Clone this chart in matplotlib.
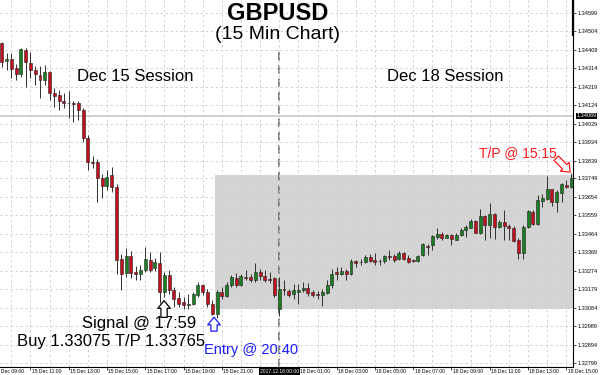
import matplotlib
matplotlib.use("Agg")
import matplotlib.pyplot as plt
import matplotlib.transforms as mtransforms
from matplotlib.patches import Rectangle
import numpy as np
import pandas as pd

plt.rcParams["font.family"] = ["Liberation Sans", "DejaVu Sans"]

# 15 min bars: Fri 15 Dec 09:30-23:45, then Mon 18 Dec 00:00-15:15
times = pd.date_range("2017-12-15 09:30", "2017-12-15 23:45", freq="15min").append(
    pd.date_range("2017-12-18 00:00", "2017-12-18 15:15", freq="15min")
)

opens = [
    1.34441, 1.34351, 1.34361, 1.34313, 1.34282, 1.34407, 1.34342, 1.34304, 1.34279, 1.34253,
    1.34296, 1.34184, 1.34176, 1.34145, 1.34136, 1.34135, 1.34133, 1.34099, 1.33953, 1.33833,
    1.33833, 1.33748, 1.33710, 1.33765, 1.33704, 1.33333, 1.33264, 1.33350, 1.33268, 1.33259,
    1.33280, 1.33331, 1.33287, 1.33316, 1.33162, 1.33251, 1.33173, 1.33136, 1.33113, 1.33096,
    1.33101, 1.33148, 1.33199, 1.33165, 1.33105, 1.33054, 1.33162, 1.33143, 1.33199, 1.33239,
    1.33199, 1.33242, 1.33242, 1.33228, 1.33268, 1.33247, 1.33230, 1.33234, 1.33079, 1.33182,
    1.33170, 1.33153, 1.33165, 1.33173, 1.33185, 1.33165, 1.33156, 1.33148, 1.33160, 1.33199,
    1.33268, 1.33259, 1.33273, 1.33256, 1.33324, 1.33317, 1.33319, 1.33342, 1.33328, 1.33322,
    1.33324, 1.33348, 1.33348, 1.33336, 1.33365, 1.33339, 1.33328, 1.33324, 1.33353, 1.33402,
    1.33405, 1.33447, 1.33461, 1.33444, 1.33456, 1.33434, 1.33456, 1.33482, 1.33494, 1.33530,
    1.33468, 1.33554, 1.33508, 1.33564, 1.33499, 1.33525, 1.33504, 1.33494, 1.33430, 1.33365,
    1.33496, 1.33576, 1.33513, 1.33632, 1.33640, 1.33691, 1.33627, 1.33674, 1.33713, 1.33704,
]
highs = [
    1.34448, 1.34390, 1.34390, 1.34334, 1.34419, 1.34416, 1.34398, 1.34326, 1.34326, 1.34330,
    1.34299, 1.34210, 1.34201, 1.34184, 1.34196, 1.34145, 1.34145, 1.34109, 1.33970, 1.33864,
    1.33847, 1.33768, 1.33790, 1.33807, 1.33717, 1.33362, 1.33388, 1.33374, 1.33297, 1.33302,
    1.33396, 1.33370, 1.33338, 1.33370, 1.33268, 1.33276, 1.33190, 1.33165, 1.33139, 1.33156,
    1.33165, 1.33216, 1.33208, 1.33182, 1.33122, 1.33173, 1.33190, 1.33216, 1.33251, 1.33262,
    1.33259, 1.33276, 1.33259, 1.33311, 1.33285, 1.33276, 1.33268, 1.33242, 1.33242, 1.33225,
    1.33182, 1.33208, 1.33208, 1.33216, 1.33211, 1.33177, 1.33170, 1.33182, 1.33225, 1.33285,
    1.33293, 1.33293, 1.33285, 1.33336, 1.33331, 1.33336, 1.33353, 1.33362, 1.33365, 1.33336,
    1.33353, 1.33379, 1.33362, 1.33375, 1.33370, 1.33353, 1.33336, 1.33353, 1.33417, 1.33413,
    1.33459, 1.33491, 1.33473, 1.33464, 1.33461, 1.33465, 1.33491, 1.33508, 1.33537, 1.33533,
    1.33593, 1.33559, 1.33622, 1.33571, 1.33533, 1.33585, 1.33516, 1.33502, 1.33444, 1.33508,
    1.33588, 1.33585, 1.33662, 1.33670, 1.33759, 1.33696, 1.33687, 1.33725, 1.33742, 1.33776,
]
lows = [
    1.34321, 1.34304, 1.34262, 1.34253, 1.34270, 1.34218, 1.34262, 1.34227, 1.34159, 1.34227,
    1.34150, 1.34116, 1.34099, 1.34107, 1.34059, 1.34037, 1.34047, 1.33933, 1.33790, 1.33799,
    1.33627, 1.33645, 1.33687, 1.33679, 1.33259, 1.33173, 1.33242, 1.33234, 1.33225, 1.33225,
    1.33268, 1.33268, 1.33271, 1.33107, 1.33139, 1.33156, 1.33088, 1.33088, 1.33079, 1.33079,
    1.33096, 1.33139, 1.33148, 1.33088, 1.33045, 1.33030, 1.33131, 1.33139, 1.33190, 1.33190,
    1.33194, 1.33225, 1.33216, 1.33216, 1.33225, 1.33216, 1.33211, 1.33139, 1.33040, 1.33148,
    1.33139, 1.33131, 1.33105, 1.33165, 1.33143, 1.33139, 1.33131, 1.33091, 1.33156, 1.33187,
    1.33228, 1.33251, 1.33228, 1.33251, 1.33293, 1.33302, 1.33311, 1.33319, 1.33302, 1.33302,
    1.33311, 1.33331, 1.33319, 1.33331, 1.33328, 1.33314, 1.33319, 1.33319, 1.33348, 1.33353,
    1.33379, 1.33439, 1.33434, 1.33440, 1.33405, 1.33430, 1.33451, 1.33447, 1.33491, 1.33465,
    1.33461, 1.33434, 1.33444, 1.33439, 1.33491, 1.33430, 1.33430, 1.33422, 1.33336, 1.33336,
    1.33491, 1.33508, 1.33508, 1.33602, 1.33636, 1.33605, 1.33576, 1.33627, 1.33701, 1.33701,
]
closes = [
    1.34347, 1.34361, 1.34308, 1.34282, 1.34412, 1.34347, 1.34304, 1.34282, 1.34253, 1.34296,
    1.34184, 1.34172, 1.34145, 1.34136, 1.34133, 1.34132, 1.34099, 1.33953, 1.33830, 1.33828,
    1.33748, 1.33710, 1.33756, 1.33704, 1.33328, 1.33259, 1.33350, 1.33264, 1.33256, 1.33280,
    1.33336, 1.33280, 1.33317, 1.33162, 1.33251, 1.33173, 1.33131, 1.33105, 1.33096, 1.33105,
    1.33153, 1.33199, 1.33165, 1.33101, 1.33054, 1.33162, 1.33143, 1.33199, 1.33242, 1.33199,
    1.33245, 1.33237, 1.33228, 1.33268, 1.33247, 1.33228, 1.33225, 1.33148, 1.33182, 1.33173,
    1.33151, 1.33177, 1.33177, 1.33187, 1.33160, 1.33148, 1.33148, 1.33165, 1.33199, 1.33259,
    1.33259, 1.33273, 1.33256, 1.33324, 1.33314, 1.33321, 1.33342, 1.33324, 1.33319, 1.33325,
    1.33348, 1.33345, 1.33331, 1.33365, 1.33336, 1.33319, 1.33322, 1.33348, 1.33410, 1.33397,
    1.33451, 1.33461, 1.33444, 1.33456, 1.33439, 1.33456, 1.33482, 1.33499, 1.33530, 1.33468,
    1.33554, 1.33508, 1.33564, 1.33499, 1.33525, 1.33502, 1.33494, 1.33427, 1.33365, 1.33499,
    1.33581, 1.33513, 1.33636, 1.33645, 1.33691, 1.33627, 1.33679, 1.33717, 1.33704, 1.33748,
]

price_ticks = [
    1.32799, 1.32894, 1.32989, 1.33084, 1.33179, 1.33274, 1.33369, 1.33464, 1.33559, 1.33654,
    1.33749, 1.33839, 1.33934, 1.34029, 1.34124, 1.34219, 1.34314, 1.34409, 1.34504, 1.34599,
]
bid_price = 1.34069
entry_price = 1.33075
tp_price = 1.33765
signal_time = pd.Timestamp("2017-12-15 17:59")
entry_time = pd.Timestamp("2017-12-15 20:40")
tp_time = pd.Timestamp("2017-12-18 15:15")
split_time = pd.Timestamp("2017-12-18 00:00")


def bar_pos(ts):
    i = times.searchsorted(ts, side="right") - 1
    return i + (ts - times[i]) / pd.Timedelta(minutes=15)


x = np.arange(len(times))
o = np.array(opens)
c = np.array(closes)
up = c >= o

fig = plt.figure(figsize=(6, 3.75), dpi=100)
ax = fig.add_axes([0, 8.5 / 375, 573 / 600, 366.5 / 375])
ax.set_xlim(-0.36, 119.4)
ax.set_ylim(1.32782, 1.34664)

# trade box
ex = bar_pos(entry_time)
ax.add_patch(Rectangle((ex, entry_price), 200, tp_price - entry_price,
                       facecolor="#d4d4d4", edgecolor="none", zorder=1))

# grid
hour_pos = [i for i, t in enumerate(times) if t.minute == 0]
ax.set_xticks(hour_pos, minor=True)
lab_pos = [i for i, t in enumerate(times) if t.minute == 0 and t.hour % 2 == 1]
ax.set_xticks(lab_pos)
ax.set_xticklabels([])
ax.set_yticks(price_ticks)
ax.set_yticklabels([f"{p:.5f}" for p in price_ticks])
ax.grid(True, which="both", color="#cdcdcd", linestyle=(0, (3, 3)), linewidth=0.6, zorder=2)
ax.set_axisbelow(False)

ax.yaxis.tick_right()
ax.tick_params(axis="y", labelsize=4, length=2, width=0.5, pad=1, colors="black")
ax.tick_params(axis="x", which="major", length=2, width=0.5)
ax.tick_params(axis="x", which="minor", length=0)
for side in ("top", "left"):
    ax.spines[side].set_visible(False)
for side in ("right", "bottom"):
    ax.spines[side].set_linewidth(0.8)

# bid line
ax.axhline(bid_price, color="#d2d2d2", linewidth=1.4, zorder=2)

# weekend separator
sx = bar_pos(split_time)
ax.axvline(sx, ymax=0.87, color="#707070", linewidth=1.2, linestyle=(0, (5, 3)), zorder=2.5)

# candles
ax.vlines(x, lows, highs, color="#303030", linewidth=0.7, zorder=3)
body_h = np.maximum(np.abs(c - o), 0.00002)
ax.bar(x, body_h, bottom=np.minimum(o, c), width=0.62,
       color=np.where(up, "#1a7f22", "#c4101c"), edgecolor="#202020", linewidth=0.4, zorder=4)

# time axis labels (the one under the highlighted separator label is hidden, as in MT4)
btrans = mtransforms.blended_transform_factory(ax.transData, ax.transAxes)
first = times[0] - pd.Timedelta(minutes=30)
labels = [(-2, first)] + [(i, times[i]) for i in lab_pos if not (sx - 6 < i < sx)]
for i, t in labels:
    ax.text(i + 0.3, -0.006, f"{t.day} Dec {t:%H:%M}", transform=btrans,
            ha="left", va="top", fontsize=3.6, clip_on=False)
ax.text(sx, -0.006, f"{split_time:%Y.%m.%d %H:%M}", transform=btrans, ha="center", va="top",
        fontsize=3.6, color="white", clip_on=False, zorder=10,
        bbox=dict(facecolor="black", edgecolor="none", pad=0.8))

rtrans = mtransforms.blended_transform_factory(ax.transAxes, ax.transData)
ax.text(1.0 + 3.5 / 573, bid_price, f"{bid_price:.5f}", transform=rtrans, ha="left",
        va="center", fontsize=4, color="white", clip_on=False, zorder=10,
        bbox=dict(facecolor="black", edgecolor="none", pad=0.6))
ax.plot([1, 1], [1, 0.905], transform=ax.transAxes, color="black", linewidth=1.6,
        clip_on=False, zorder=10)

# titles and notes
ax.text(0.485, 0.962, "GBPUSD", transform=ax.transAxes, ha="center", va="center",
        fontsize=17, fontweight="bold")
ax.text(0.485, 0.905, "(15 Min Chart)", transform=ax.transAxes, ha="center", va="center",
        fontsize=14)
ax.text(0.2365, 0.79, "Dec 15 Session", transform=ax.transAxes, ha="center", va="center",
        fontsize=12)
ax.text(0.7775, 0.79, "Dec 18 Session", transform=ax.transAxes, ha="center", va="center",
        fontsize=12)
ax.text(0.903, 0.583, f"T/P @ {tp_time:%H:%M}", transform=ax.transAxes, ha="center",
        va="center", fontsize=10, color="#ff1a1a")
ax.text(0.2435, 0.116, f"Signal @ {signal_time:%H:%M}", transform=ax.transAxes, ha="center",
        va="center", fontsize=12)
ax.text(0.1937, 0.067, f"Buy {entry_price:.5f} T/P {tp_price:.5f}", transform=ax.transAxes,
        ha="center", va="center", fontsize=12)
ax.text(0.438, 0.045, f"Entry @ {entry_time:%H:%M}", transform=ax.transAxes, ha="center",
        va="center", fontsize=10.5, color="#1a1aff")

arrow = "simple,head_length=0.55,head_width=0.9,tail_width=0.45"
ax.annotate("", xy=(bar_pos(signal_time), 1.33120), xytext=(0, -12), textcoords="offset points",
            arrowprops=dict(arrowstyle=arrow, fc="white", ec="black", lw=0.9,
                            mutation_scale=10, shrinkA=0, shrinkB=0), zorder=6)
ax.annotate("", xy=(ex - 0.3, 1.33035), xytext=(0, -10), textcoords="offset points",
            arrowprops=dict(arrowstyle=arrow, fc="white", ec="#1a1aff", lw=0.9,
                            mutation_scale=10, shrinkA=0, shrinkB=0), zorder=6)
ax.annotate("", xy=(bar_pos(tp_time) - 0.2, 1.33780), xytext=(-10, 10), textcoords="offset points",
            arrowprops=dict(arrowstyle=arrow, fc="white", ec="#ff1a1a", lw=0.9,
                            mutation_scale=10, shrinkA=0, shrinkB=0), zorder=6)

fig.savefig("out.png", dpi=100)
